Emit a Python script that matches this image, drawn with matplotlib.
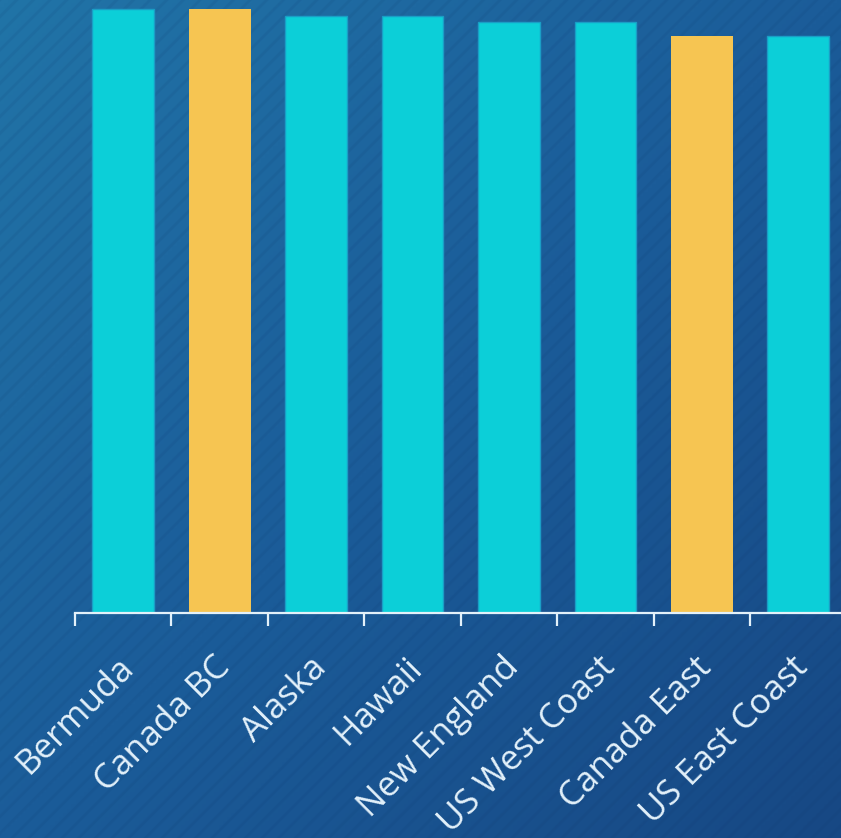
import numpy as np
import matplotlib.pyplot as plt
import matplotlib.transforms as mtransforms
from matplotlib.colors import LinearSegmentedColormap
from matplotlib.patches import Rectangle

regions = ["Bermuda", "Canada BC", "Alaska", "Hawaii", "New England",
           "US West Coast", "Canada East", "US East Coast"]
scores = [90, 90, 89, 89, 88, 88, 86, 86]
highlight = ["Canada BC", "Canada East"]

cyan = "#0ccfd8"
yellow = "#f6c552"
text_col = "#e3f1fa"

plt.rcParams["font.family"] = ["Open Sans", "DejaVu Sans"]
plt.rcParams["hatch.linewidth"] = 2.0

W, H = 841, 838
fig = plt.figure(figsize=(W / 100, H / 100), dpi=100)

# background: diagonal gradient with faint stripes
bg = fig.add_axes([0, 0, 1, 1], zorder=0)
bg.axis("off")
gx, gy = np.meshgrid(np.linspace(0, 1, 200), np.linspace(0, 1, 200))
grad = (gx + gy) / 2
cmap = LinearSegmentedColormap.from_list("bg", ["#2174a7", "#1b5c99", "#174884"])
bg.imshow(grad, cmap=cmap, extent=[0, 1, 0, 1], aspect="auto", origin="upper")
bg.add_patch(Rectangle((0, 0), 1, 1, transform=bg.transAxes, fill=False,
                       hatch="//", edgecolor=(0.05, 0.2, 0.4, 0.09), lw=0))
bg.set_xlim(0, 1)
bg.set_ylim(0, 1)

ax = fig.add_axes([75 / W, 1 - 613 / H, 766 / W, 613 / H], zorder=1)
ax.patch.set_alpha(0)

x = np.arange(len(regions))
colors = [yellow if r in highlight else cyan for r in regions]
edges = ["none" if r in highlight else "#1a9ec6" for r in regions]
ax.bar(x, scores, width=0.64, color=colors, edgecolor=edges, linewidth=1)

ax.set_xlim(-0.5, -0.5 + 766 / 96.43)
ax.set_ylim(0, 90 * 613 / 604)

for s in ["top", "right", "left"]:
    ax.spines[s].set_visible(False)
ax.spines["bottom"].set_color(text_col)
ax.spines["bottom"].set_linewidth(1.6)
ax.set_yticks([])

ax.set_xticks(x - 0.5)
ax.set_xticklabels([])
ax.tick_params(axis="x", which="major", length=9, width=1.6, color=text_col)
ax.set_xticks(x, minor=True)
ax.set_xticklabels(regions, minor=True, rotation=45, ha="right",
                   rotation_mode="anchor", fontsize=25, color=text_col)
ax.tick_params(axis="x", which="minor", length=0, pad=27)

shift = mtransforms.ScaledTranslation(-7 / 100, 0, fig.dpi_scale_trans)
for lbl in ax.get_xticklabels(minor=True):
    lbl.set_transform(lbl.get_transform() + shift)

fig.savefig("out.png", dpi=100)
